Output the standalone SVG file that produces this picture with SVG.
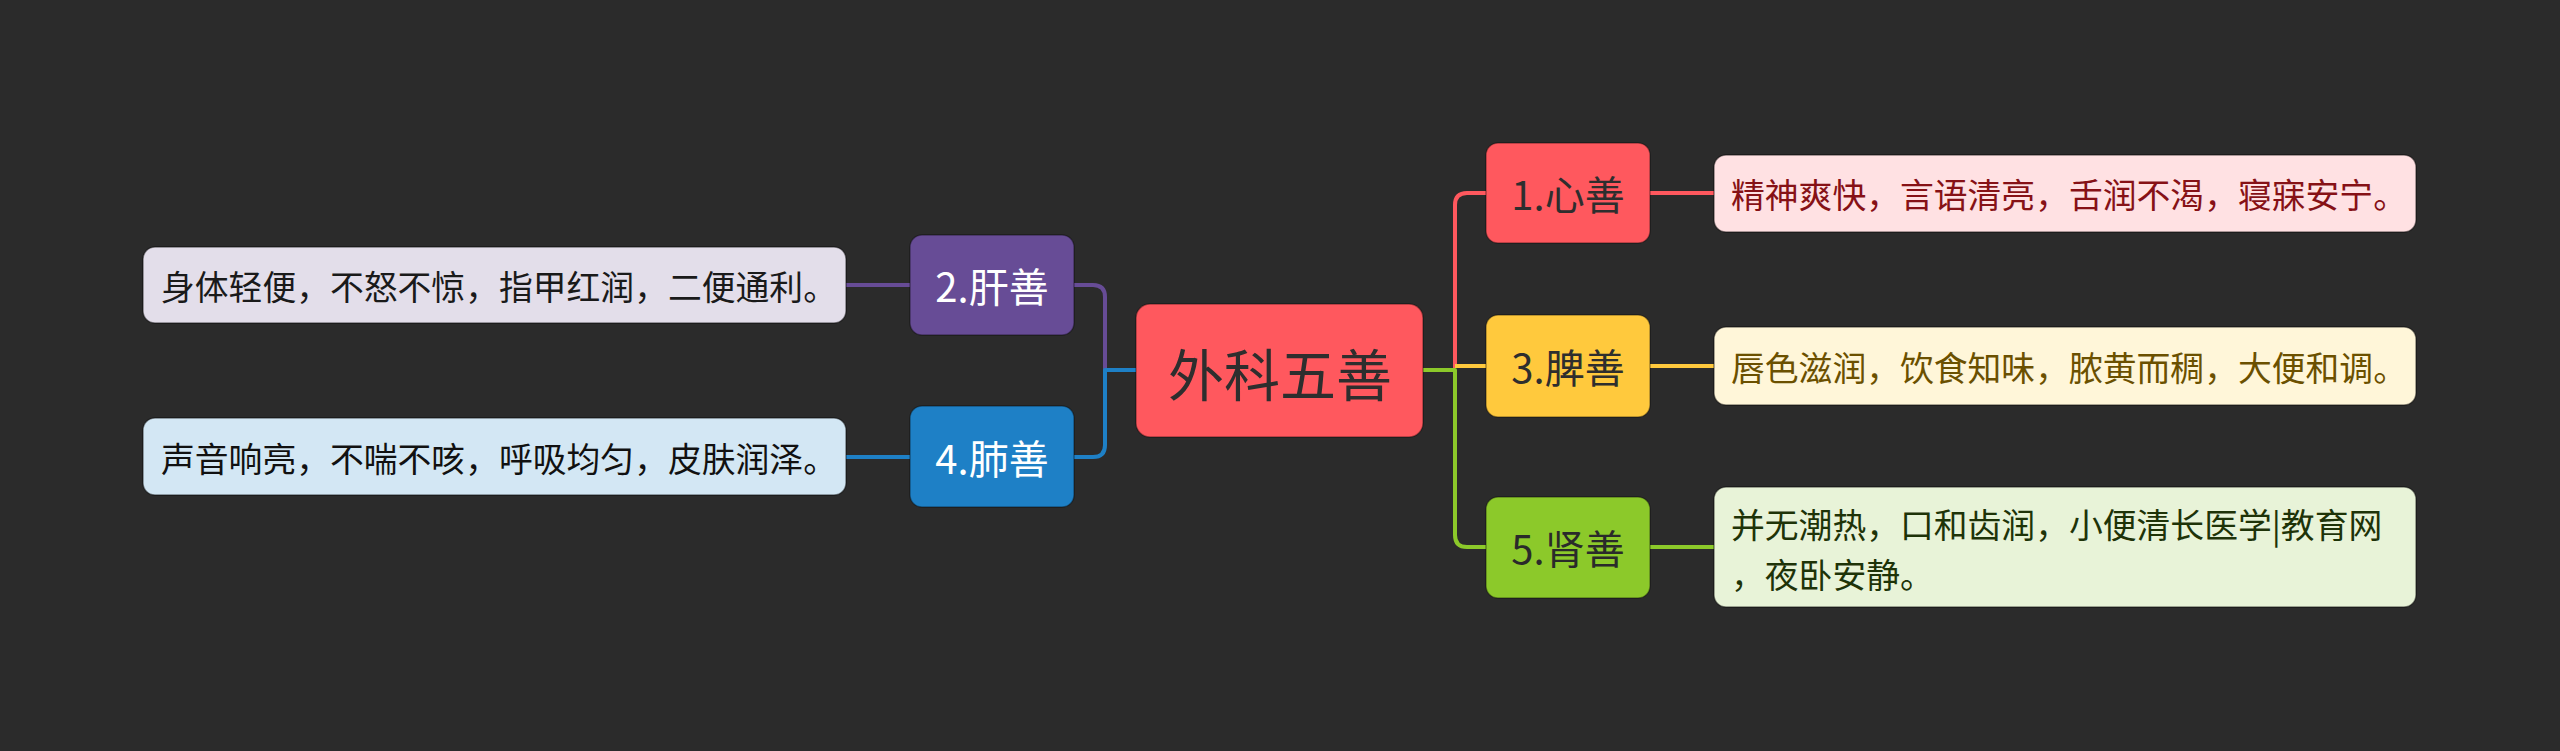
<svg xmlns="http://www.w3.org/2000/svg" width="2560" height="751" viewBox="0 0 2560 751">
<style>
.bg{fill:#2b2b2b}
.ln{fill:none;stroke-width:4;stroke-linejoin:round;stroke-linecap:butt}
.nd{stroke:rgba(0,0,0,0.35);stroke-width:1.5}
.ds{stroke:rgba(0,0,0,0.45);stroke-width:1.5}
text{font-family:"Noto Sans CJK SC","Noto Sans",sans-serif;dominant-baseline:central}
.t0{font-size:56px;fill:#2e2e2e;text-anchor:middle}
.t1{font-size:40px;text-anchor:middle}
.t2{font-size:33.8px}
</style>
<rect class="bg" x="0" y="0" width="2560" height="751"/>
<g id="connectors">
  <path class="ln" stroke="#ff585e" d="M1455,368 V205 Q1455,193 1467,193 H1486"/>
  <path class="ln" stroke="#ffc93d" d="M1455,366 H1486"/>
  <path class="ln" stroke="#8cc92a" d="M1423,370 H1455 V535 Q1455,547 1467,547 H1486"/>
  <path class="ln" stroke="#ff585e" d="M1650,193 H1714"/>
  <path class="ln" stroke="#ffc93d" d="M1650,366 H1714"/>
  <path class="ln" stroke="#8cc92a" d="M1650,547 H1714"/>
  <path class="ln" stroke="#674c96" d="M1105,370 V297 Q1105,285 1093,285 H1073"/>
  <path class="ln" stroke="#1e80c6" d="M1136,370 H1105 V445 Q1105,457 1093,457 H1073"/>
  <path class="ln" stroke="#674c96" d="M846,285 H910"/>
  <path class="ln" stroke="#1e80c6" d="M846,457 H910"/>
</g>
<g id="root">
  <rect class="nd" x="1136" y="304" width="287" height="133" rx="14" fill="#ff585e"/>
  <text class="t0" x="1280" y="371">外科五善</text>
</g>
<g id="n1">
  <rect class="nd" x="1486" y="143" width="164" height="100" rx="12" fill="#ff585e"/>
  <text class="t1" x="1568" y="193" fill="#2e2e2e">1.心善</text>
</g>
<g id="d1">
  <rect class="ds" x="1714" y="155" width="702" height="77" rx="12" fill="#ffe1e3"/>
  <text class="t2" x="1731" y="193" fill="#861116">精神爽快，言语清亮，舌润不渴，寝寐安宁。</text>
</g>
<g id="n3">
  <rect class="nd" x="1486" y="315" width="164" height="102" rx="12" fill="#ffc93d"/>
  <text class="t1" x="1568" y="366" fill="#2e2e2e">3.脾善</text>
</g>
<g id="d3">
  <rect class="ds" x="1714" y="327" width="702" height="78" rx="12" fill="#fff6d9"/>
  <text class="t2" x="1731" y="366" fill="#6b5000">唇色滋润，饮食知味，脓黄而稠，大便和调。</text>
</g>
<g id="n5">
  <rect class="nd" x="1486" y="497" width="164" height="101" rx="12" fill="#8cc92a"/>
  <text class="t1" x="1568" y="547" fill="#2a2a2a">5.肾善</text>
</g>
<g id="d5">
  <rect class="ds" x="1714" y="487" width="702" height="120" rx="12" fill="#e8f3d8"/>
  <text class="t2" x="1731" y="523" fill="#1e3308">并无潮热，口和齿润，小便清长医学|教育网</text>
  <text class="t2" x="1731" y="573" fill="#1e3308">，夜卧安静。</text>
</g>
<g id="n2">
  <rect class="nd" x="910" y="235" width="164" height="100" rx="12" fill="#674c96"/>
  <text class="t1" x="992" y="285" fill="#ffffff">2.肝善</text>
</g>
<g id="d2">
  <rect class="ds" x="143" y="247" width="703" height="76" rx="12" fill="#e3deea"/>
  <text class="t2" x="161" y="285" fill="#1a1a1a">身体轻便，不怒不惊，指甲红润，二便通利。</text>
</g>
<g id="n4">
  <rect class="nd" x="910" y="406" width="164" height="101" rx="12" fill="#1e80c6"/>
  <text class="t1" x="992" y="457" fill="#ffffff">4.肺善</text>
</g>
<g id="d4">
  <rect class="ds" x="143" y="418" width="703" height="77" rx="12" fill="#d3e7f4"/>
  <text class="t2" x="161" y="457" fill="#111111">声音响亮，不喘不咳，呼吸均匀，皮肤润泽。</text>
</g>
</svg>
